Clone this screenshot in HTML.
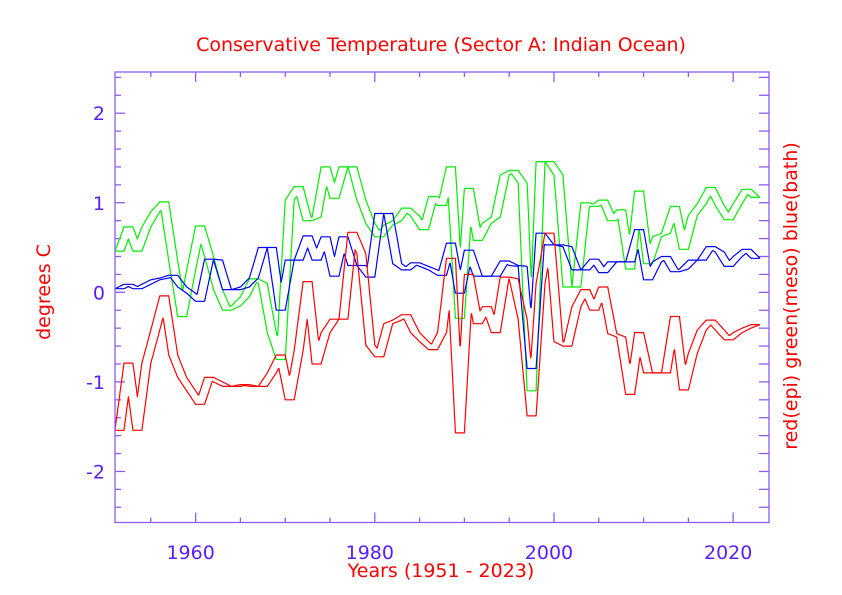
<!DOCTYPE html>
<html><head><meta charset="utf-8"><style>
html,body{margin:0;padding:0;background:#fff;}
svg{display:block;font-family:"DejaVu Sans","Liberation Sans",sans-serif;}
</style></head><body>
<svg id="chart" width="842" height="595" viewBox="0 0 842 595">
<text x="441" y="51" text-anchor="middle" font-size="19" fill="#ff0000">Conservative Temperature (Sector A: Indian Ocean)</text>
<text x="441" y="577" text-anchor="middle" font-size="19" fill="#ff0000">Years (1951 - 2023)</text>
<text transform="translate(50,292) rotate(-90)" text-anchor="middle" font-size="19" fill="#ff0000">degrees C</text>
<text transform="translate(797,296) rotate(-90)" text-anchor="middle" font-size="19" fill="#ff0000">red(epi) green(meso) blue(bath)</text>
<g id="ticks"></g>
<g id="series"></g>
<rect x="115" y="72" width="654" height="450.5" fill="none" stroke="#8c5cff" stroke-width="1.3"/>
</svg>
<script>
const years = [];
for (let y = 1951; y <= 2022; y++) years.push(y);
const redEpi = [-1.54,-0.79,-1.54,-0.79,-0.42,-0.04,-0.7,-0.95,-1.1,-1.25,-0.95,-1.0,-1.05,-1.05,-1.03,-1.05,-1.05,-0.9,-0.7,-1.2,-0.65,0.12,-0.8,-0.45,-0.3,-0.3,0.67,
0.43,-0.59,-0.72,-0.35,-0.31,-0.25,-0.45,-0.55,-0.64,-0.45,0.38,-1.57,0.2,-0.35,-0.16,-0.45,0.17,0.15,-0.3,-1.38,0.1,0.66,-0.55,
-0.6,-0.16,0.03,-0.2,0.06,-0.46,-0.5,-1.14,-0.45,-0.9,-0.9,-0.9,-0.27,-1.09,-0.68,-0.42,-0.31,-0.42,-0.53,-0.45,-0.4,-0.36];
const greenMeso = [0.46,0.73,0.46,0.73,0.9,1.01,0.35,-0.27,0.25,0.74,0.4,0.03,-0.2,-0.15,-0.05,0.15,0.1,-0.45,-0.75,1.03,1.18,0.8,0.84,1.4,1.05,1.4,
1.4,1.03,0.77,0.62,0.75,0.8,0.94,0.85,0.7,1.07,0.97,1.4,-0.29,1.16,0.58,0.77,0.84,1.31,1.36,1.22,-1.1,1.46,1.46,1.31,
0.06,0.06,1.0,0.96,1.03,0.8,0.92,0.26,1.13,0.32,0.62,0.66,0.96,0.48,0.86,0.99,1.17,0.97,0.81,0.99,1.15,1.06];
const blueBath = [0.04,0.09,0.04,0.09,0.14,0.16,0.19,0.06,-0.01,-0.1,0.37,0.36,0.03,0.03,0.06,0.16,0.5,0.5,-0.2,0.36,0.36,0.63,0.36,0.62,0.18,0.62,
0.3,0.3,0.17,0.88,0.88,0.32,0.25,0.33,0.29,0.25,0.19,0.55,-0.01,0.47,0.18,0.18,0.18,0.35,0.3,0.29,-0.85,0.66,0.53,0.53,
0.51,0.25,0.25,0.37,0.22,0.34,0.34,0.34,0.7,0.14,0.34,0.4,0.23,0.26,0.36,0.36,0.51,0.45,0.29,0.4,0.48,0.38];
const xTickLabels = [1960, 1980, 2000, 2020];
const yTickLabels = [-2, -1, 0, 1, 2];

const X0 = 115, X1 = 769, Y0 = 522.5, Y1 = 72;
const xMin = 1951, xMax = 2024, yMin = -2.57, yMax = 2.46;
const sx = v => X0 + (v - xMin) / (xMax - xMin) * (X1 - X0);
const sy = v => Y0 - (v - yMin) / (yMax - yMin) * (Y0 - Y1);
const NS = "http://www.w3.org/2000/svg";
const tk = document.getElementById('ticks');
const sg = document.getElementById('series');
const axisCol = "#8c5cff", labCol = "#5a1eff";
function ln(p, x1, y1, x2, y2, c, w) {
  const l = document.createElementNS(NS, 'line');
  l.setAttribute('x1', x1); l.setAttribute('y1', y1); l.setAttribute('x2', x2); l.setAttribute('y2', y2);
  l.setAttribute('stroke', c); l.setAttribute('stroke-width', w);
  p.appendChild(l); return l;
}
for (let yr = 1955; yr <= 2020; yr += 5) {
  const major = yr % 20 === 0;
  const len = major ? 10 : 5;
  const x = sx(yr);
  const a = ln(tk, x, Y0, x, Y0 - len, axisCol, 1.3);
  
  
  const b = ln(tk, x, Y1, x, Y1 + len, axisCol, 1.3);
  
  
}
xTickLabels.forEach(v => {
  const t = document.createElementNS(NS, 'text');
  t.setAttribute('x', sx(v) - 5); t.setAttribute('y', 559);
  t.setAttribute('text-anchor', 'middle'); t.setAttribute('font-size', '19'); t.setAttribute('fill', labCol);
  t.textContent = v;
  
  
  tk.appendChild(t);
});
for (let i = -12; i <= 12; i++) {
  const v = i * 0.2;
  if (v < yMin || v > yMax) continue;
  const major = i % 5 === 0;
  const y = sy(v);
  const a = ln(tk, X0, y, X0 + (major ? 10 : 6), y, axisCol, 1.3);
  
  
  const b = ln(tk, X1, y, X1 - 10, y, axisCol, 1.3);
  
  
}
yTickLabels.forEach(v => {
  const t = document.createElementNS(NS, 'text');
  t.setAttribute('x', 105); t.setAttribute('y', sy(v) + 7);
  t.setAttribute('text-anchor', 'end'); t.setAttribute('font-size', '19'); t.setAttribute('fill', labCol);
  t.textContent = v;
  
  
  
  tk.appendChild(t);
});
// series drawn as a ribbon: the line swept horizontally over one year
function interp(vals, x) {
  const f = x - years[0];
  const i = Math.max(0, Math.min(vals.length - 2, Math.floor(f)));
  const t = f - i;
  return vals[i] + (vals[i + 1] - vals[i]) * t;
}
function drawSeries(vals, color, name) {
  const a = years[0], b = years[years.length - 1];
  const up = [], lo = [];
  for (let k = 0; k <= (b + 1 - a) * 20; k++) {
    const x = a + k / 20;
    const s0 = Math.max(a, x - 1), s1 = Math.min(b, x);
    let mx = -1e9, mn = 1e9;
    const cands = [interp(vals, s0), interp(vals, s1)];
    for (let j = Math.ceil(s0); j <= Math.floor(s1); j++) cands.push(vals[j - a]);
    cands.forEach(v => { if (v > mx) mx = v; if (v < mn) mn = v; });
    up.push(sx(x).toFixed(1) + ',' + sy(mx).toFixed(1));
    lo.push(sx(x).toFixed(1) + ',' + sy(mn).toFixed(1));
  }
  [[up, '-upper'], [lo, '-lower']].forEach(([pts, suf]) => {
    const p = document.createElementNS(NS, 'polyline');
    p.setAttribute('points', pts.join(' '));
    p.setAttribute('fill', 'none'); p.setAttribute('stroke', color); p.setAttribute('stroke-width', '1.2');
    p.setAttribute('stroke-linejoin', 'round');
    
    
    sg.appendChild(p);
  });
}
drawSeries(greenMeso, '#00ee00', 'green-meso');
drawSeries(blueBath, '#0000ff', 'blue-bath');
drawSeries(redEpi, '#ff0000', 'red-epi');
</script>
</body></html>
